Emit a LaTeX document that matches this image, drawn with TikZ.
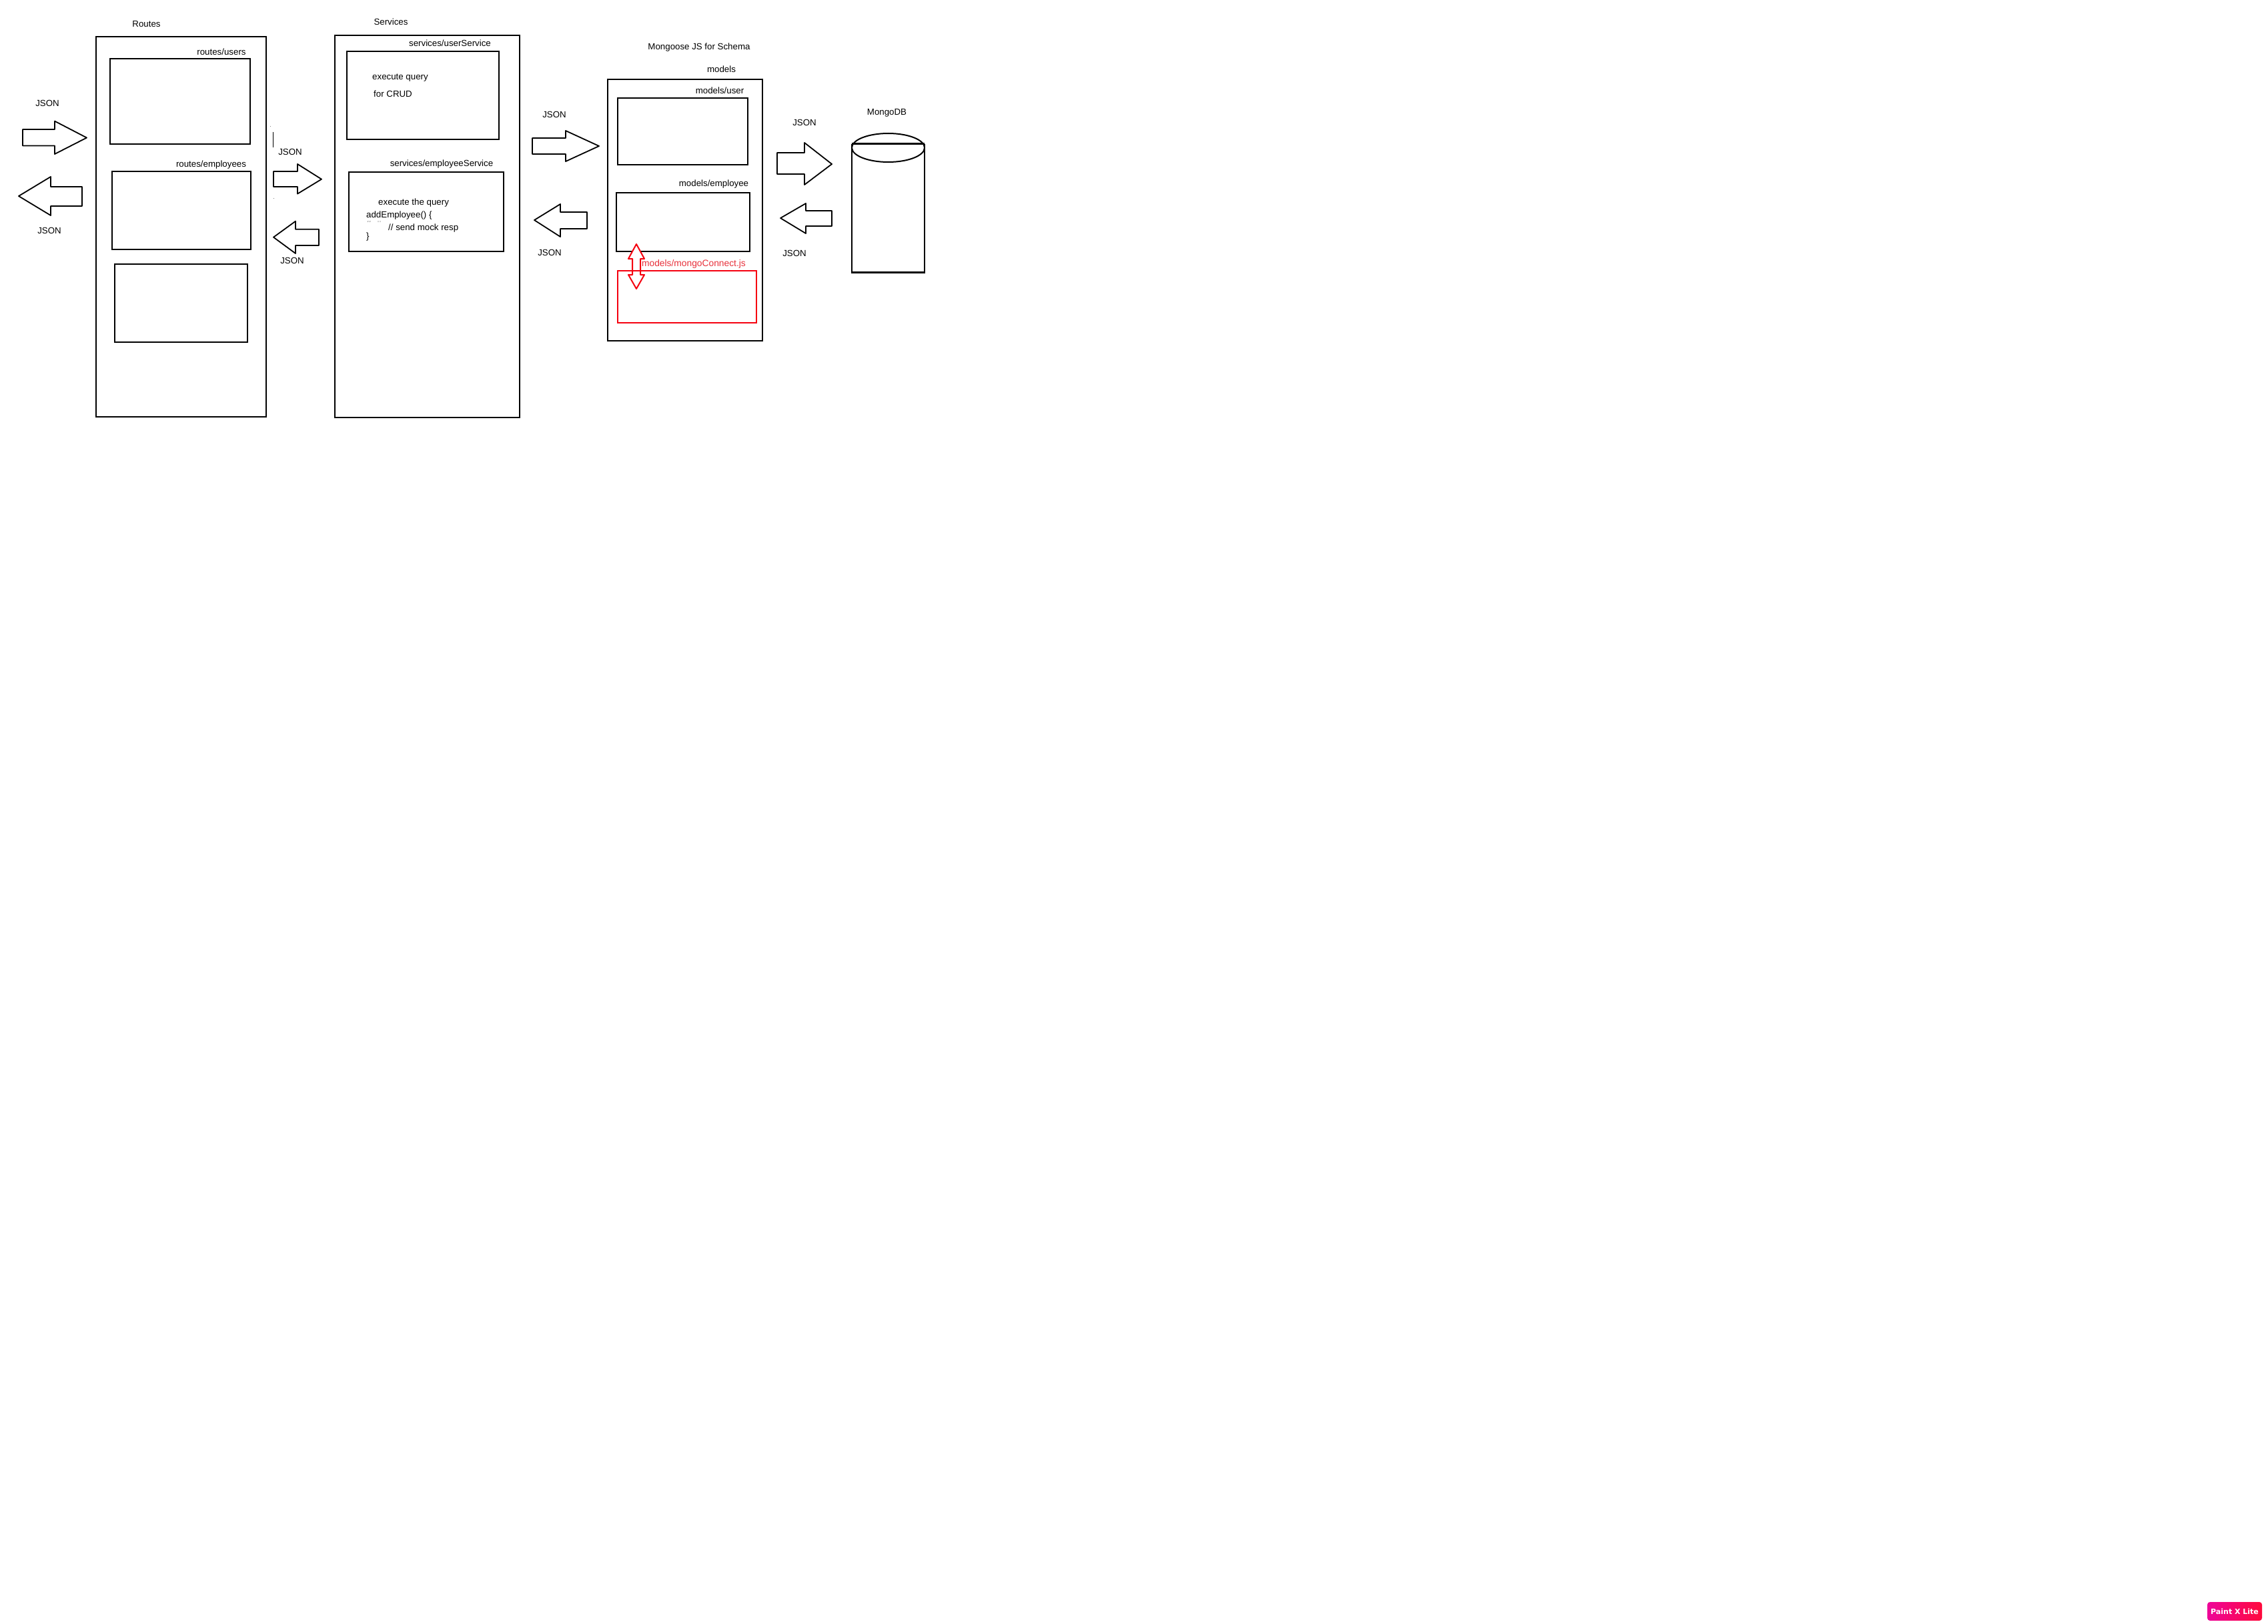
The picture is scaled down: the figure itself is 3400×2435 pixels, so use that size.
\documentclass[tikz,border=0pt]{standalone}
\usepackage{fontspec}
\setmainfont{Liberation Sans}
\newfontfamily\badgefont{DejaVu Sans}
\definecolor{redline}{HTML}{F5000F}
\definecolor{redtext}{HTML}{E8303A}
\definecolor{badgeL}{HTML}{EE0599}
\definecolor{badgeR}{HTML}{FF0A3C}
\tikzset{
  boxst/.style={draw=black,line width=2pt,line join=miter,inner sep=0pt,outer sep=0pt,fill=none},
  redbox/.style={boxst,draw=redline},
  arrowst/.style={draw=black,line width=1.8pt,line join=round,fill=white},
  lbl/.style={anchor=base,inner sep=0pt,font=\fontsize{13.3}{15}\selectfont,text=black},
  lblw/.style={anchor=base west,inner sep=0pt,font=\fontsize{13.3}{15}\selectfont,text=black},
}
\newcommand{\bx}[6][boxst]{%
  \pgfmathsetmacro{\bw}{#5-#3}\pgfmathsetmacro{\bh}{#6-#4}%
  \pgfmathsetmacro{\cxx}{(#3+#5)/2}\pgfmathsetmacro{\cyy}{(#4+#6)/2}%
  \node[#1,minimum width=\bw pt,minimum height=\bh pt] (#2) at (\cxx,\cyy) {};}
% tail end x, head base x, tip x, tail top, tail bottom, head top, head bottom, tip y
\newcommand{\blockarrow}[8]{%
  \draw[arrowst] (#1,#4) -- (#2,#4) -- (#2,#6) -- (#3,#8) -- (#2,#7) -- (#2,#5) -- (#1,#5) -- cycle;}
\begin{document}
\begin{tikzpicture}[x=1pt,y=-1pt]
\useasboundingbox (0,0) rectangle (3400,2435);
\fill[white] (0,0) rectangle (3400,2435);

% Routes
\bx{routes}{144}{55}{399}{625}
\bx{rusers}{165}{88}{375}{216}
\bx{remp}{168}{257}{376}{374}
\bx{rthird}{172}{396}{371}{512.5}
\node[lbl] (troutes) at (219.5,40.5) {Routes};
\node[lbl] (trusers) at (332,83) {routes/users};
\node[lbl] (tremp) at (316.5,251) {routes/employees};
\node[lbl] (j1) at (71,159.5) {JSON};
\node[lbl] (j2) at (74,350) {JSON};
\blockarrow{34}{82}{130}{194}{218.5}{181.6}{231}{206.5}
\blockarrow{123}{76}{28}{280}{309}{265}{323}{294}

% marks near second arrow
\draw[black,line width=1pt] (409,198) -- (409,221);
\fill[gray] (404.6,188.6) rectangle (405.6,189.6);
\fill[gray] (409.5,297) rectangle (410.5,298);

\node[lbl] (j3) at (435,232.5) {JSON};
\node[lbl] (j4) at (438,395.5) {JSON};
\blockarrow{410}{446}{482}{257}{280}{246}{290.6}{268.7}
\blockarrow{478}{443}{410}{343.7}{368}{331.7}{380}{355.7}

% Services
\bx{services}{502}{52.6}{779}{626}
\bx{suser}{520}{76.7}{748}{209}
\bx{semp}{523}{258}{755}{377}
\node[lbl] (tservices) at (586,37.8) {Services};
\node[lbl] (tsuser) at (674.5,69.5) {services/userService};
\node[lbl] (tsemp) at (662,250) {services/employeeService};
\node[lblw] (q1) at (558,120) {execute query};
\node[lblw] (q2) at (560,146) {for CRUD};
\node[lblw] (q3) at (567,307.5) {execute the query};
\node[lblw] (q4) at (549,326.5) {addEmployee() \{};
\node[lblw] (q5) at (582,345) {// send mock resp};
\node[lblw] (q6) at (549,358) {\}};
\draw[gray,line width=.8pt] (552,331) -- (551.5,333) (555,331) -- (554.5,333) (567,331) -- (567,333) (570,331) -- (570,333);

\node[lbl] (j5) at (831,176.5) {JSON};
\node[lbl] (j6) at (824,383.5) {JSON};
\blockarrow{798}{848}{898}{207}{231}{196}{242}{219}
\blockarrow{880}{840}{801}{318}{343}{306}{355}{330}

% Models
\bx{models}{911}{119}{1143}{511}
\bx{muser}{926}{147}{1121}{247}
\bx{memp}{924}{289}{1124}{377}
\node[lbl] (tmongoose) at (1048,74.5) {Mongoose JS for Schema};
\node[lbl] (tmodels) at (1081.5,108.5) {models};
\node[lbl] (tmuser) at (1079,140.5) {models/user};
\node[lbl] (tmemp) at (1070,279.5) {models/employee};

% double arrow
\draw[draw=redline,line width=2pt,line join=round,fill=white]
  (954,366) -- (966,388) -- (960,388) -- (960,412) -- (966,412) -- (954,433)
  -- (942,412) -- (948,412) -- (948,388) -- (942,388) -- cycle;
\bx[redbox]{mconn}{926}{406}{1134}{484}
\node[lbl,text=redtext,font=\fontsize{13.8}{15}\selectfont] (tmconn) at (1040,399.5) {models/mongoConnect.js};

\node[lbl] (j7) at (1206,188.5) {JSON};
\node[lbl] (j8) at (1191,384.5) {JSON};
\blockarrow{1165}{1206}{1247}{229}{261}{214}{277}{246}
\blockarrow{1247}{1208}{1170}{316}{339}{305}{350}{327}

% MongoDB cylinder
\node[lbl] (tmongodb) at (1329.5,172.5) {MongoDB};
\draw[black,line width=2pt] (1331.5,221.5) ellipse [x radius=54.5,y radius=21.5];
\draw[black,line width=2.4pt,line join=miter] (1277,216) -- (1277,408) (1386,408) -- (1386,216);
\draw[black,line width=3pt] (1276,408) -- (1387,408);
\draw[black,line width=3pt] (1277,216) -- (1386,216);

% Badge
\node[rounded corners=4pt,left color=badgeL,right color=badgeR,minimum width=82pt,minimum height=28pt,inner sep=0pt] (badge) at (3350,2416) {};
\node[text=white,inner sep=0pt,font=\badgefont\bfseries\fontsize{11}{13}\selectfont] (tbadge) at (badge.center) {Paint X Lite};
\end{tikzpicture}
\end{document}
